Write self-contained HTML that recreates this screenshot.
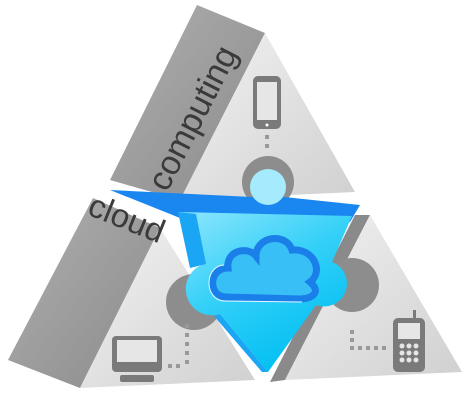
<!DOCTYPE html>
<html><head><meta charset="utf-8"><style>html,body{margin:0;padding:0;background:#fff}svg{display:block}</style></head><body>
<svg width="467" height="404" viewBox="0 0 467 404" xmlns="http://www.w3.org/2000/svg">
<defs>
<linearGradient id="side" x1="0" y1="0" x2="1" y2="1"><stop offset="0" stop-color="#b0b0b0"/><stop offset="1" stop-color="#8a8a8a"/></linearGradient>
<linearGradient id="front" x1="0" y1="0" x2="1" y2="1"><stop offset="0" stop-color="#f2f2f2"/><stop offset="1" stop-color="#d0d0d0"/></linearGradient>
<linearGradient id="blue" x1="0" y1="0" x2="0.6" y2="1"><stop offset="0" stop-color="#8ee6fc"/><stop offset="0.5" stop-color="#34d0f8"/><stop offset="1" stop-color="#00bff2"/></linearGradient>
</defs>
<polygon points="197,5 265,33 180,200 110,180" fill="url(#side)"/>
<polygon points="265,33 355,192 180,200" fill="url(#front)"/>
<polygon points="93,198 160,228 80,388 8,360" fill="url(#side)"/>
<polygon points="160,228 255,380 80,388" fill="url(#front)"/>
<polygon points="355,215 370,215 285,380 270,382" fill="#8a8a8a"/>
<polygon points="370,215 462,372 285,380" fill="url(#front)"/>
<circle cx="268" cy="182" r="26" fill="#8d8d8d"/>
<circle cx="194" cy="302" r="28" fill="#8d8d8d"/>
<circle cx="352" cy="285" r="27" fill="#8d8d8d"/>
<polygon points="110,190 252,197 284,197 360,205 350,222 180,218" fill="#1a86f0"/>
<path d="M178,212 L352,216 L332,262 A22,22 0 1 1 316,305 L268,372 L220,314 A25,25 0 1 1 204,264 Z" fill="url(#blue)"/>
<path d="M178,212 L196,214 L206,264 L190,268 Z" fill="#1aa6f4"/>
<path d="M220,314 L268,372 L262,372 L214,316 Z" fill="#1aa6f4"/>
<circle cx="268" cy="187" r="18" fill="#a6ebfd"/>
<path d="M226,297 C208,297 208,268 228,268 C226,250 248,246 256,256 C256,236 286,232 292,250 C314,248 324,272 310,282 C322,292 312,299 300,299 Z" fill="#38c0f6" stroke="#1a7fe8" stroke-width="7"/>
<path d="M224,301 C204,300 204,266 224,265" fill="none" stroke="#e8f8ff" stroke-width="1"/>
<path d="M224,301 L302,302" fill="none" stroke="#e8f8ff" stroke-width="1"/>
<text x="0" y="0" transform="translate(167,193) rotate(-63)" font-family="Liberation Sans, sans-serif" font-size="34" fill="#3a3a3a">computing</text>
<text x="0" y="0" transform="translate(86,214) rotate(22)" font-family="Liberation Sans, sans-serif" font-size="33" fill="#3a3a3a">cloud</text>
<rect x="253" y="76" width="28" height="53" rx="5" fill="#7a7a7a"/>
<rect x="257" y="82" width="20" height="38" fill="#e6e6e6"/>
<circle cx="267" cy="125" r="1.5" fill="#fff"/>
<rect x="265" y="135" width="4" height="4" fill="#999"/><rect x="265" y="144" width="4" height="4" fill="#999"/>
<rect x="112" y="336" width="50" height="36" rx="4" fill="#7a7a7a"/>
<rect x="117" y="340" width="40" height="22" fill="#e6e6e6"/>
<rect x="120" y="375" width="34" height="7" rx="2" fill="#7a7a7a"/>
<g fill="#999"><rect x="185" y="324" width="4" height="4"/><rect x="185" y="333" width="4" height="4"/><rect x="185" y="342" width="4" height="4"/><rect x="185" y="351" width="4" height="4"/><rect x="185" y="360" width="4" height="4"/><rect x="168" y="364" width="4" height="4"/><rect x="176" y="364" width="4" height="4"/></g>
<rect x="413" y="310" width="3" height="12" fill="#7a7a7a"/>
<rect x="393" y="318" width="32" height="54" rx="5" fill="#7a7a7a"/>
<rect x="398" y="323" width="22" height="16" fill="#e6e6e6"/>
<g fill="#e6e6e6"><circle cx="402" cy="346" r="2.5"/><circle cx="409" cy="346" r="2.5"/><circle cx="416" cy="346" r="2.5"/><circle cx="402" cy="353" r="2.5"/><circle cx="409" cy="353" r="2.5"/><circle cx="416" cy="353" r="2.5"/><circle cx="402" cy="360" r="2.5"/><circle cx="409" cy="360" r="2.5"/><circle cx="416" cy="360" r="2.5"/></g>
<g fill="#999"><rect x="350" y="330" width="4" height="4"/><rect x="350" y="338" width="4" height="4"/><rect x="350" y="346" width="4" height="4"/><rect x="358" y="346" width="4" height="4"/><rect x="366" y="346" width="4" height="4"/><rect x="374" y="346" width="4" height="4"/><rect x="382" y="346" width="4" height="4"/></g>
</svg>
</body></html>
